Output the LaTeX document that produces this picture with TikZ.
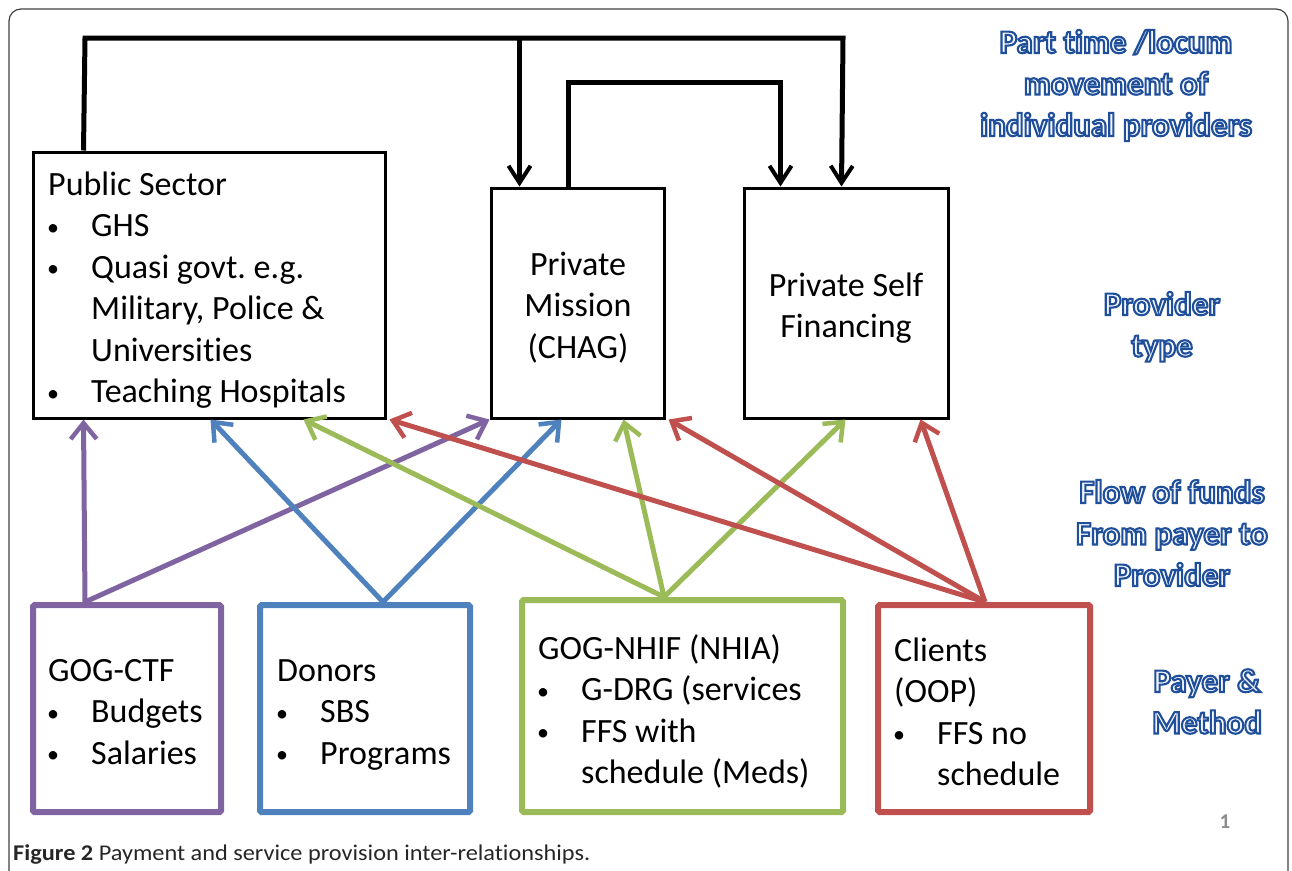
\documentclass[tikz,border=0pt]{standalone}
\usepackage{fontspec}
\usepackage{graphicx}
\setmainfont{Carlito}[Ligatures=NoCommon]
\frenchspacing
\usetikzlibrary{arrows.meta}
\definecolor{cpurple}{HTML}{8064A2}
\definecolor{cblue}{HTML}{4F81BD}
\definecolor{cgreen}{HTML}{9BBB59}
\definecolor{cred}{HTML}{C0504D}
\definecolor{pgnum}{HTML}{8C8C8C}
\newcommand\bitem[1]{\makebox[43pt][l]{\hspace{-1pt}{\fontsize{24}{24}\selectfont\raisebox{1.5pt}{•}}}#1}
\newcommand\olbl[1]{\special{pdf:literal direct q 2 Tr 2.1 w 0.122 0.306 0.604 RG 0.96 0.97 1 rg}#1\special{pdf:literal direct Q}}
\tikzset{
  provbox/.style={draw=black, line width=3pt, inner sep=0pt},
  paybox/.style={draw=#1, line width=6pt, inner sep=0pt, rounded corners=1.5pt},
  txt/.style={font=\fontsize{34}{41.5}\selectfont, inner sep=0pt, anchor=base west},
  ctxt/.style={font=\fontsize{34}{41.5}\selectfont, inner sep=0pt, anchor=base},
  lbl/.style={font=\fontsize{33}{41.5}\selectfont\bfseries, inner sep=0pt, anchor=base},
  blk/.style={draw=black, line width=5pt, -{Straight Barb[length=17pt,width=22pt,line width=4pt]}},
  flow/.style={draw=#1, line width=5pt, -{Straight Barb[length=16pt,width=26pt,line width=4.5pt]}}
}
\begin{document}
\begin{tikzpicture}[x=1pt,y=-1pt]
\useasboundingbox (0,0) rectangle (1292,870);
\clip (0,0) rectangle (1292,870);
% frame
\draw[black!75, line width=1.2pt, rounded corners=12pt] (9,890) -- (9,9) -- (1288,9) -- (1288,890);

% provider boxes
\node[provbox, minimum width=352pt, minimum height=266pt] (ps) at (209,285) {};
\node[provbox, minimum width=173pt, minimum height=230pt] (pm) at (577.5,303) {};
\node[provbox, minimum width=204pt, minimum height=230pt] (psf) at (846,303) {};

% payer boxes
\node[paybox=cpurple, minimum width=188pt, minimum height=207pt] (ctf) at (127,708.5) {};
\node[paybox=cblue, minimum width=210pt, minimum height=207pt] (don) at (365,708.5) {};
\node[paybox=cgreen, minimum width=321pt, minimum height=212pt] (nhif) at (682.5,706) {};
\node[paybox=cred, minimum width=212pt, minimum height=207pt] (cli) at (984,708.5) {};

% text in provider boxes
\node[txt] (t1) at (48,195) {Public Sector};
\node[txt] (t2) at (48,236.5) {\bitem{GHS}};
\node[txt] (t3) at (48,278) {\bitem{Quasi govt. e.g.}};
\node[txt] (t4) at (91,319.5) {Military, Police \&};
\node[txt] (t5) at (91,361) {Universities};
\node[txt] (t6) at (48,402.5) {\bitem{Teaching Hospitals}};
\node[ctxt] (t7) at (578,275) {Private};
\node[ctxt] (t8) at (578,316.5) {Mission};
\node[ctxt] (t9) at (578,358) {(CHAG)};
\node[ctxt] (t10) at (846,296) {Private Self};
\node[ctxt] (t11) at (846,337.5) {Financing};

% text in payer boxes
\node[txt] (u1) at (48,681) {GOG-CTF};
\node[txt] (u2) at (48,722.5) {\bitem{Budgets}};
\node[txt] (u3) at (48,764) {\bitem{Salaries}};
\node[txt] (u4) at (277,681) {Donors};
\node[txt] (u5) at (277,722.5) {\bitem{SBS}};
\node[txt] (u6) at (277,764) {\bitem{Programs}};
\node[txt] (u7) at (538,659) {GOG-NHIF (NHIA)};
\node[txt] (u8) at (538,700.5) {\bitem{G-DRG (services}};
\node[txt] (u9) at (538,742) {\bitem{FFS with}};
\node[txt] (u10) at (581,783.5) {schedule (Meds)};
\node[txt] (u11) at (894,661) {Clients};
\node[txt] (u12) at (894,702.5) {(OOP)};
\node[txt] (u13) at (894,744) {\bitem{FFS no}};
\node[txt] (u14) at (937,785.5) {schedule};

% side labels
\node[lbl] (l1) at (1116,53) {\olbl{Part time /locum}};
\node[lbl] (l2) at (1116,94.5) {\olbl{movement of}};
\node[lbl] (l3) at (1116,136) {\olbl{individual providers}};
\node[lbl] (l4) at (1162,315) {\olbl{Provider}};
\node[lbl] (l5) at (1162,356.5) {\olbl{type}};
\node[lbl] (l6) at (1172,503) {\olbl{Flow of funds}};
\node[lbl] (l7) at (1172,544.5) {\olbl{From payer to}};
\node[lbl] (l8) at (1172,586) {\olbl{Provider}};
\node[lbl] (l9) at (1207,692) {\olbl{Payer \&}};
\node[lbl] (l10) at (1207,733.5) {\olbl{Method}};

% page number and caption
\node[font=\fontsize{21}{24}\selectfont\bfseries, text=pgnum, inner sep=0pt, anchor=base] (pg) at (1225,828) {1};
\node[font=\fontsize{22.5}{24}\selectfont, text=black!85, inner sep=0pt, anchor=base west] (cap) at (13,860) {\scalebox{1.08}[1]{\textbf{Figure 2} Payment and service provision inter-relationships.}};

% movement connectors (black)
\coordinate (jl) at (85,38);
\coordinate (jr) at (843,38);
\coordinate (pmin) at ([xshift=30pt]pm.north west);
\coordinate (psfin) at ([xshift=99pt]psf.north west);
\draw[blk] ([xshift=52pt]ps.north west) -- (jl) -- (jr) -- (psfin);
\draw[blk] (jl -| pmin) -- (pmin);
\draw[blk] ([xshift=79pt]pm.north west) -- ++(0,-104) -| ([xshift=38pt]psf.north west);

% flow of funds
\draw[flow=cpurple] ([xshift=-42pt]ctf.north) -- ([xshift=52pt]ps.south west);
\draw[flow=cpurple] ([xshift=-42pt]ctf.north) -- (pm.south west);
\draw[flow=cblue] ([xshift=18pt]don.north) -- ([xshift=179pt]ps.south west);
\draw[flow=cblue] ([xshift=18pt]don.north) -- ([xshift=72pt]pm.south west);
\draw[flow=cgreen] ([xshift=-18.5pt]nhif.north) -- ([xshift=272pt]ps.south west);
\draw[flow=cgreen] ([xshift=-18.5pt]nhif.north) -- ([xshift=134pt]pm.south west);
\draw[flow=cgreen] ([xshift=-18.5pt]nhif.north) -- ([xshift=103pt]psf.south west);
\draw[flow=cred] ([xshift=1pt]cli.north) -- ([xshift=3pt]ps.south east);
\draw[flow=cred] ([xshift=1pt]cli.north) -- ([xshift=3pt]pm.south east);
\draw[flow=cred] ([xshift=1pt]cli.north) -- ([xshift=178pt]psf.south west);
\end{tikzpicture}
\end{document}
